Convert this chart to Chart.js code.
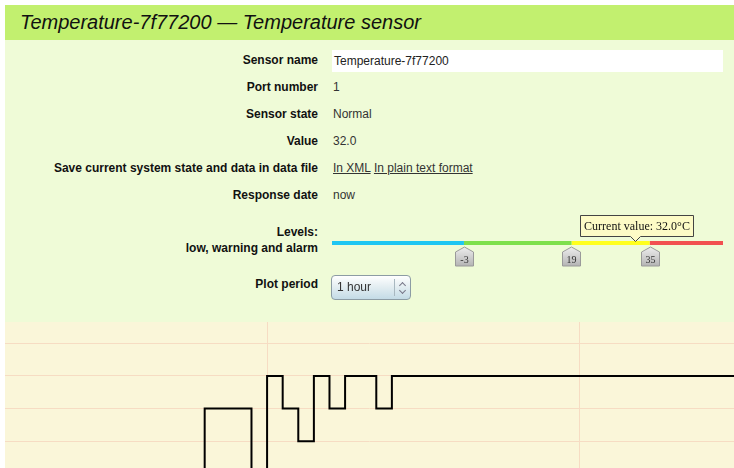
<!DOCTYPE html>
<html lang="en">
<head>
  <meta charset="UTF-8">
  <title>Temperature sensor</title>
  <script src="https://cdn.jsdelivr.net/npm/chart.js"></script>
  <style>
    body {
      margin: 0;
      background: #ffffff;
      font-family: "Liberation Sans", Arial, sans-serif;
      width: 734px;
      height: 468px;
      overflow: hidden;
    }

    .panel {
      position: absolute;
      left: 5px;
      top: 5px;
      width: 729px;
      height: 463px;
      background: #effbd7;
    }

    .header {
      position: absolute;
      left: 0;
      top: 0;
      width: 729px;
      height: 35px;
      background: #c2f06f;
    }

    .header h1 {
      margin: 0;
      padding-left: 15px;
      font-size: 20px;
      font-style: italic;
      font-weight: normal;
      line-height: 35px;
      color: #111;
    }

    .lbl {
      position: absolute;
      right: 416px;
      font-size: 12px;
      font-weight: bold;
      color: #111;
      text-align: right;
      line-height: 16px;
      white-space: nowrap;
    }

    .val {
      position: absolute;
      left: 328px;
      font-size: 12px;
      color: #333;
      line-height: 16px;
      white-space: nowrap;
    }

    .val a {
      color: #333;
      text-decoration: underline;
    }

    .input {
      position: absolute;
      left: 327px;
      top: 45px;
      width: 389px;
      height: 22px;
      background: #fff;
      font-size: 12px;
      line-height: 22px;
      color: #222;
      padding-left: 2px;
    }

    .select {
      position: absolute;
      left: 326px;
      top: 270px;
      width: 78px;
      height: 23px;
      border: 1px solid #8c9ca4;
      border-radius: 4px;
      background: linear-gradient(#ffffff, #e4eef2 45%, #c4dbe6);
      font-size: 12px;
      line-height: 23px;
      color: #333;
    }

    .select span {
      position: absolute;
      left: 5px;
    }

    .select .div {
      position: absolute;
      left: 62px;
      top: 3px;
      width: 1px;
      height: 17px;
      background: #a8b8c0;
    }

    .select .up, .select .dn {
      position: absolute;
      left: 68px;
      width: 4px;
      height: 4px;
      border-left: 1px solid #778;
      border-top: 1px solid #778;
    }

    .select .up { top: 7px; transform: rotate(45deg); }
    .select .dn { top: 12px; transform: rotate(225deg); }

    #levelBox {
      position: absolute;
      left: 327px;
      top: 203px;
      width: 391px;
      height: 70px;
    }

    #plotBox {
      position: absolute;
      left: 0;
      top: 317px;
      width: 729px;
      height: 146px;
      background: #faf6d9;
    }
  </style>
</head>
<body>
  <div class="panel">
    <div class="header"><h1>Temperature-7f77200 — Temperature sensor</h1></div>

    <div class="lbl" style="top:47px">Sensor name</div>
    <div class="input">Temperature-7f77200</div>

    <div class="lbl" style="top:74px">Port number</div>
    <div class="val" style="top:74px">1</div>

    <div class="lbl" style="top:101px">Sensor state</div>
    <div class="val" style="top:101px">Normal</div>

    <div class="lbl" style="top:128px">Value</div>
    <div class="val" style="top:128px">32.0</div>

    <div class="lbl" style="top:155px">Save current system state and data in data file</div>
    <div class="val" style="top:155px"><a>In XML</a> <a>In plain text format</a></div>

    <div class="lbl" style="top:182px">Response date</div>
    <div class="val" style="top:182px">now</div>

    <div class="lbl" style="top:219px">Levels:<br>low, warning and alarm</div>
    <div id="levelBox"><canvas id="levelChart" width="391" height="70"></canvas></div>

    <div class="lbl" style="top:271px">Plot period</div>
    <div class="select"><span>1 hour</span><div class="div"></div><div class="up"></div><div class="dn"></div></div>

    <div id="plotBox"><canvas id="plotChart" width="729" height="146"></canvas></div>
  </div>

  <script>
    // levels widget
    const levelMin = -30;
    const levelMax = 50;
    const levels = [-3, 19, 35];
    const levelColors = ['#1ec6f2', '#7ee04c', '#ffff1e', '#f25050'];
    const currentValue = 32.0;

    // plot data (minutes past the hour, degrees C)
    const plotTimes = [0, 16, 19, 20, 21, 22, 23, 24, 25, 27, 28, 60];
    const plotTemps = [27, 31, 27, 32, 31, 30, 32, 31, 32, 31, 32, 32];
    const timeTicks = [20, 40];
    const tempTicks = [30, 31, 32, 33];

    const bounds = [levelMin, ...levels, levelMax];
    const levelSets = levelColors.map((c, i) => ({
      data: [{ x: bounds[i], y: 0 }, { x: bounds[i + 1], y: 0 }],
      borderColor: c,
      borderWidth: 4,
      pointRadius: 0
    }));

    const levelMarks = {
      id: 'levelMarks',
      afterDatasetsDraw(chart) {
        const ctx = chart.ctx;
        const xs = chart.scales.x;
        ctx.save();
        levels.forEach(v => {
          const px = Math.round(xs.getPixelForValue(v)) + 0.5;
          const top = 39;
          ctx.beginPath();
          ctx.moveTo(px, top);
          ctx.lineTo(px + 9, top + 5);
          ctx.lineTo(px + 9, top + 19);
          ctx.lineTo(px - 9, top + 19);
          ctx.lineTo(px - 9, top + 5);
          ctx.closePath();
          const g = ctx.createLinearGradient(0, top, 0, top + 19);
          g.addColorStop(0, '#eeeeee');
          g.addColorStop(1, '#b4b4b4');
          ctx.fillStyle = g;
          ctx.fill();
          ctx.strokeStyle = '#9a9a9a';
          ctx.lineWidth = 1;
          ctx.stroke();
          ctx.fillStyle = '#333';
          ctx.font = '10px "Liberation Serif", serif';
          ctx.textAlign = 'center';
          ctx.textBaseline = 'middle';
          ctx.fillText(String(v), px, top + 13);
        });

        // current value tip
        const cx = Math.round(xs.getPixelForValue(currentValue)) + 0.5;
        const w = 113, h = 21, ty = 7.5;
        const bx = cx - 55;
        ctx.beginPath();
        ctx.moveTo(bx, ty);
        ctx.lineTo(bx + w, ty);
        ctx.lineTo(bx + w, ty + h);
        ctx.lineTo(cx + 5, ty + h);
        ctx.lineTo(cx, ty + h + 5);
        ctx.lineTo(cx - 5, ty + h);
        ctx.lineTo(bx, ty + h);
        ctx.closePath();
        ctx.fillStyle = '#fdfbc6';
        ctx.fill();
        ctx.strokeStyle = '#444';
        ctx.stroke();
        ctx.fillStyle = '#111';
        ctx.font = '12px "Liberation Serif", serif';
        ctx.textAlign = 'center';
        ctx.textBaseline = 'middle';
        ctx.fillText('Current value: ' + currentValue.toFixed(1) + '°C', bx + w / 2, ty + h / 2 + 1);
        ctx.restore();
      }
    };

    new Chart(document.getElementById('levelChart').getContext('2d'), {
      type: 'line',
      data: { datasets: levelSets },
      options: {
        responsive: false,
        animation: false,
        events: [],
        layout: { padding: 0 },
        plugins: { legend: { display: false }, tooltip: { enabled: false } },
        scales: {
          x: { type: 'linear', min: levelMin, max: levelMax, display: false },
          y: { min: -1, max: 1, display: false }
        }
      },
      plugins: [levelMarks]
    });

    const points = plotTimes.map((t, i) => ({ x: t, y: plotTemps[i] }));

    new Chart(document.getElementById('plotChart').getContext('2d'), {
      type: 'line',
      data: {
        datasets: [{
          data: points,
          stepped: true,
          borderColor: '#000',
          borderWidth: 2,
          pointRadius: 0
        }]
      },
      options: {
        responsive: false,
        animation: false,
        events: [],
        layout: { padding: 0 },
        plugins: { legend: { display: false }, tooltip: { enabled: false } },
        scales: {
          x: {
            type: 'linear',
            min: 3.2,
            max: 49.93,
            afterBuildTicks: s => { s.ticks = timeTicks.map(v => ({ value: v })); },
            grid: { color: '#f6dcc3', drawTicks: false },
            border: { display: false },
            ticks: { display: false }
          },
          y: {
            min: 29.18,
            max: 33.65,
            afterBuildTicks: s => { s.ticks = tempTicks.map(v => ({ value: v })); },
            grid: { color: '#f6dcc3', drawTicks: false },
            border: { display: false },
            ticks: { display: false }
          }
        }
      }
    });
  </script>
</body>
</html>
